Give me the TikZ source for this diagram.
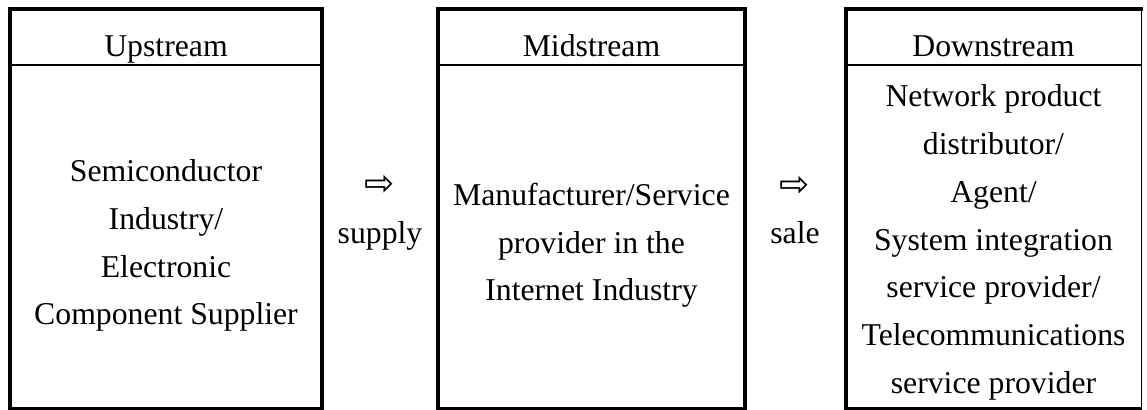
\documentclass[tikz,border=0pt]{standalone}
\usepackage{fontspec}
\setmainfont{Liberation Serif}
\newfontfamily\arrowfont{DejaVu Sans}
\begin{document}
\begin{tikzpicture}[x=0.75pt,y=-0.75pt,
  heavy/.style={draw,line width=3pt},
  side/.style={draw,line width=2.6pt},
  foot/.style={draw,line width=1.7pt},
  thin/.style={draw,line width=1.3pt},
  rule/.style={draw,line width=2.2pt},
  txt/.style={align=center,font=\fontsize{23.8}{35.8}\selectfont,inner sep=0pt},
  flow/.style={font=\arrowfont\fontsize{27}{30}\selectfont,inner sep=0pt}]
\useasboundingbox (0,0) rectangle (1147,410);

% stage boxes: top and left edges heavier than the others
\foreach \l/\r in {10/322, 438/745, 846/1141.5}{
  \draw[heavy] (\l-1.5,9) -- (\r+1.3,9);
  \draw[heavy] (\l,7.5) -- (\l,409.5);
  \draw[foot]  (\l,408.5) -- (\r,408.5);
  \draw[rule]  (\l,65) -- (\r,65);
}
\draw[side] (322,7.5) -- (322,409.5);
\draw[side] (745,7.5) -- (745,409.5);
\draw[thin] (1141.5,7.5) -- (1141.5,409.5);

% headers
\node[txt,anchor=base] (up)   at (166,57) {Upstream};
\node[txt,anchor=base] (mid)  at (591.5,57) {Midstream};
\node[txt,anchor=base] (down) at (993.5,57) {Downstream};

% contents
\node[txt] (upbody) at (166,243.6) {\strut Semiconductor\\Industry/\\Electronic\\Component Supplier\strut};
\node[txt] (midbody) at (591.5,243.7) {\strut Manufacturer/Service\\provider in the\\Internet Industry\strut};
\node[txt] (downbody) at (993.5,240.6) {\strut Network product\\distributor/\\Agent/\\System integration\\service provider/\\Telecommunications\\service provider\strut};

% flow marks between stages
\node[flow] (arr1) at (380,185) {⇨};
\node[txt,anchor=base] (supply) at (380,243) {supply};
\node[flow] (arr2) at (795,186) {⇨};
\node[txt,anchor=base] (sale) at (795,243) {sale};
\end{tikzpicture}
\end{document}
